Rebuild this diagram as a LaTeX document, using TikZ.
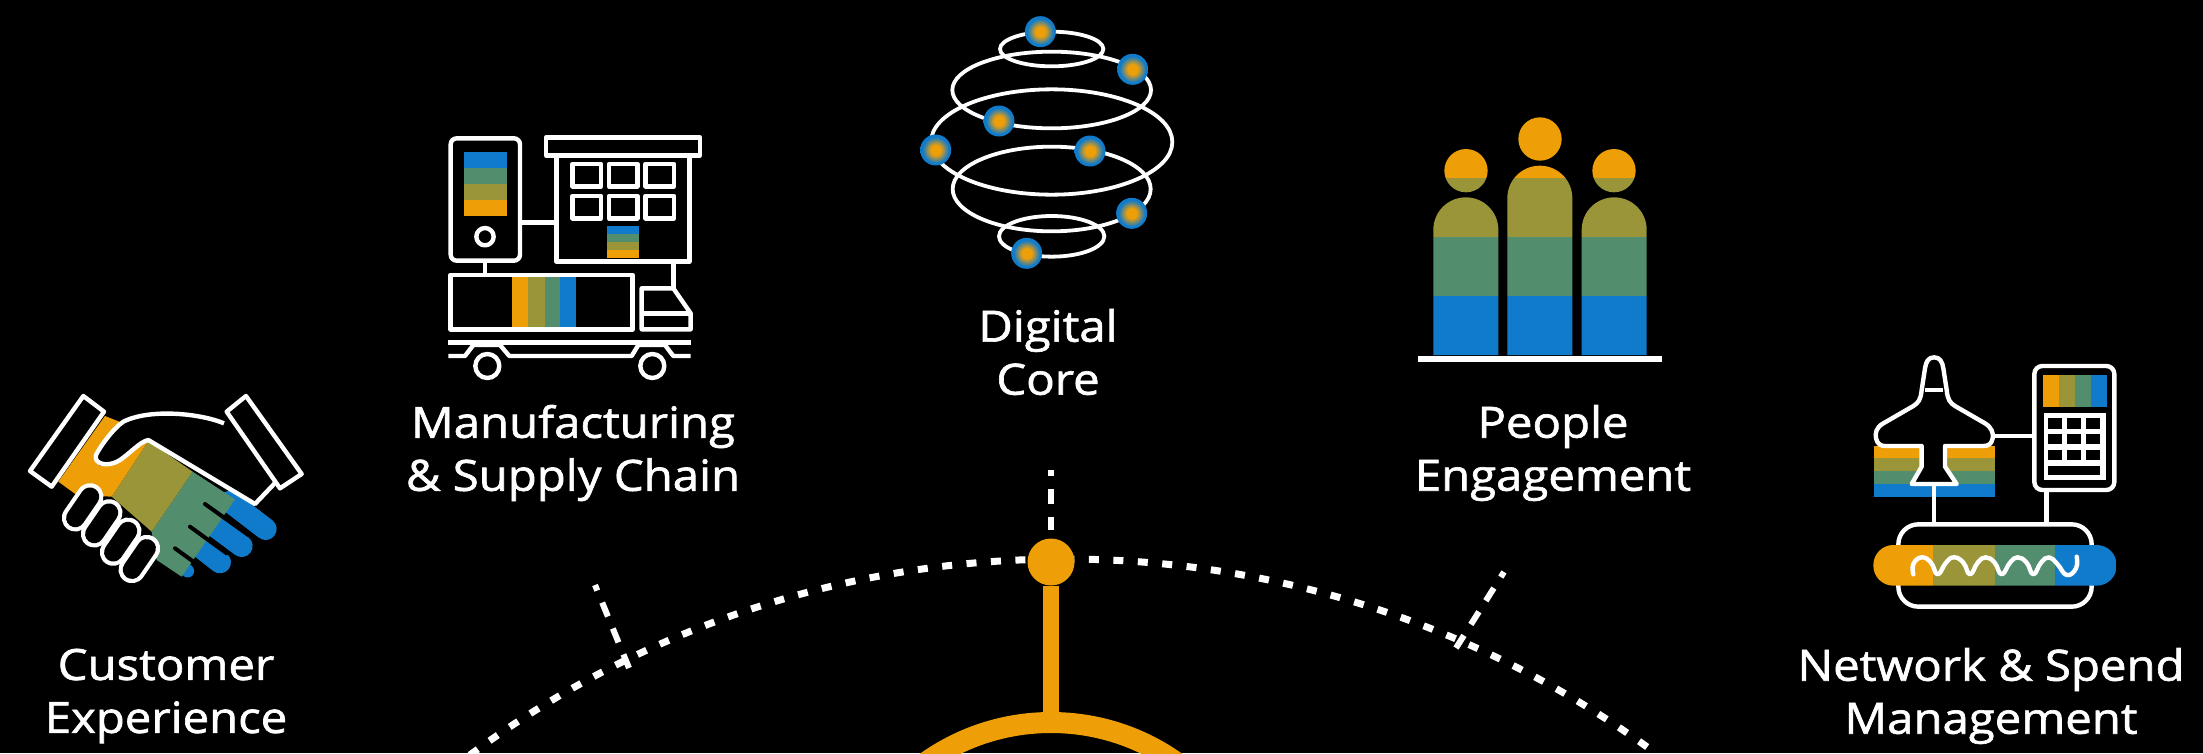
\documentclass[tikz,border=0pt]{standalone}
\usepackage{fontspec}
\setmainfont{Open Sans}
\newfontface\labfont{Open Sans}[FakeBold=1.5,FakeStretch=1.1]
\definecolor{cor}{HTML}{EE9F08}
\definecolor{col}{HTML}{999538}
\definecolor{cgr}{HTML}{528E6E}
\definecolor{cbl}{HTML}{107BCB}
\pgfdeclareradialshading{coredot}{\pgfpoint{0bp}{0bp}}{color(0bp)=(cor); color(8bp)=(cor); color(21bp)=(cbl); color(25bp)=(cbl); color(50bp)=(cbl)}
\tikzset{
  iconline/.style={draw=white,line width=4.4pt,line join=round},
  thinline/.style={draw=white,line width=3.8pt},
  label/.style={text=white,align=center,font=\labfont\fontsize{43}{53}\selectfont,inner sep=0pt},
  dotline/.style={draw=white,line width=7pt,dash pattern=on 10pt off 14.5pt},
  tickline/.style={draw=white,line width=6pt,dash pattern=on 15pt off 13pt},
  goldline/.style={draw=cor,line width=16pt},
  netdot/.style={circle,minimum size=31pt,inner sep=0pt,shading=coredot}
}
\begin{document}
\begin{tikzpicture}[x=1pt,y=-1pt]
\useasboundingbox (0,0) rectangle (2203,753);
\fill[black] (0,0) rectangle (2203,753);

% ---------- arc and hub
\begin{scope}
\clip (0,0) rectangle (2203,753);
\draw[dotline] (1064,1557) circle (998);
\draw[draw=cor,line width=21pt] (1051,939) circle (216.5);
\end{scope}
\node[circle,fill=cor,minimum size=47pt,inner sep=0pt] (hub) at (1051,562) {};
\coordinate (ringtop) at (1051,722);
\draw[goldline] (hub) -- (ringtop);
\coordinate (c1) at (1051,470); \coordinate (c2) at (1051,530);
\draw[tickline,dash phase=9pt] (c1) -- (c2);
\coordinate (l1) at (595,585); \coordinate (l2) at (629,668);
\draw[tickline,dash phase=9pt] (l1) -- (l2);
\coordinate (r1) at (1504,572); \coordinate (r2) at (1456,648);
\draw[tickline,dash phase=9pt] (r1) -- (r2);

% ---------- handshake
\begin{scope}[shift={(0,360)},scale=0.33333]
\draw[cbl,line width=22pt,line cap=round] (690,425) -- (797,507);
\draw[cbl,line width=22pt,line cap=round] (640,495) -- (725,558);
\draw[cbl,line width=22pt,line cap=round] (600,560) -- (660,607);
\draw[cbl,line width=13pt,line cap=round] (550,620) -- (563,633);
\fill[cgr] (578,335) -- (705,418) -- (545,650) -- (470,600) -- (455,515) -- cycle;
\fill[col] (445,243) -- (578,335) -- (455,515) -- (335,410) -- cycle;
\fill[cor] (315,168) -- (358,185) -- (285,295) -- (300,318) -- (345,310) -- (445,243) -- (335,410) -- (230,405) -- (175,365) -- cycle;
\draw[black,line width=4pt,line cap=round] (615,432) -- (745,525);
\draw[black,line width=4pt,line cap=round] (570,500) -- (680,580);
\draw[black,line width=4pt,line cap=round] (525,565) -- (590,612);
\draw[iconline] (250,108) -- (312,155) -- (155,380) -- (90,333) -- cycle;
\draw[iconline] (738,108) -- (680,155) -- (840,385) -- (905,342) -- cycle;
\draw[iconline] (672,190) .. controls (600,160) and (450,145) .. (370,185) .. controls (340,205) and (300,260) .. (288,285) .. controls (280,310) and (320,325) .. (360,300) .. controls (390,280) and (420,245) .. (445,240) -- (765,432) -- (826,368);
\foreach \x/\y in {248/442,305/490,362/545,418/597}{
  \draw[white,line width=27pt,line cap=round] (\x+22,\y-32) -- (\x-22,\y+32);
  \draw[black,line width=18.5pt,line cap=round] (\x+22,\y-32) -- (\x-22,\y+32);
}
\end{scope}

% ---------- manufacturing
\begin{scope}[shift={(420,120)},scale=0.33333]
\fill[cbl] (133,97) rectangle (260,145);
\fill[cgr] (133,145) rectangle (260,192);
\fill[col] (133,192) rectangle (260,240);
\fill[cor] (133,240) rectangle (260,288);
\draw[iconline,rounded corners=6pt] (92,55) rectangle (300,422);
\draw[iconline] (195,350) circle (26);
\draw[iconline] (378,52) rectangle (840,106);
\fill[cbl] (562,318) rectangle (657,342);
\fill[cgr] (562,342) rectangle (657,366);
\fill[col] (562,366) rectangle (657,390);
\fill[cor] (562,390) rectangle (657,415);
\draw[iconline] (410,106) rectangle (808,425);
\foreach \y in {132,228}{\foreach \x in {458,567,677}{
  \draw[iconline] (\x,\y) rectangle (\x+85,\y+67);
}}
\draw[iconline] (300,308) -- (410,308);
\draw[iconline] (195,422) -- (195,465);
\draw[iconline] (760,425) -- (760,505);
\fill[cor] (275,470) rectangle (325,625);
\fill[col] (325,470) rectangle (375,625);
\fill[cgr] (375,470) rectangle (420,625);
\fill[cbl] (420,470) rectangle (468,625);
\draw[iconline] (92,465) rectangle (638,628);
\draw[iconline] (665,505) -- (760,505) -- (812,580) -- (812,628) -- (665,628) -- cycle;
\draw[iconline] (665,580) -- (812,580);
\draw[iconline] (85,667) -- (812,667);
\draw[iconline] (85,708) -- (135,708) -- (160,675) -- (240,675) -- (268,708) -- (635,708) -- (655,675) -- (735,675) -- (760,708) -- (812,708);
\draw[iconline,fill=black] (202,738) circle (36);
\draw[iconline,fill=black] (697,738) circle (36);
\end{scope}

% ---------- globe
\begin{scope}[shift={(900,0)},scale=0.33333]
\draw[thinline] (455,147) ellipse (155 and 52);
\draw[thinline] (455,270) ellipse (298 and 115);
\draw[thinline] (455,426) ellipse (362 and 158);
\draw[thinline] (455,567) ellipse (297 and 127);
\draw[thinline] (455,709) ellipse (158 and 61);
\node[netdot] (d1) at (421,95) {};
\node[netdot] (d2) at (698,208) {};
\node[netdot] (d3) at (297,363) {};
\node[netdot] (d4) at (107,450) {};
\node[netdot] (d5) at (570,453) {};
\node[netdot] (d6) at (695,640) {};
\node[netdot] (d7) at (380,760) {};
\end{scope}

% ---------- people
\begin{scope}[shift={(1400,100)},scale=0.33333]
\begin{scope}
\clip (198,212) circle (65) (420,117) circle (65) (642,212) circle (65)
 (100,765) -- (100,389) arc[start angle=180,end angle=0,x radius=97.5,y radius=-97] -- (295,765) -- cycle
 (322,765) -- (322,294) arc[start angle=180,end angle=0,x radius=97.5,y radius=-97] -- (517,765) -- cycle
 (545,765) -- (545,389) arc[start angle=180,end angle=0,x radius=97.5,y radius=-97] -- (740,765) -- cycle;
\fill[cor] (0,0) rectangle (840,235);
\fill[col] (0,235) rectangle (840,410);
\fill[cgr] (0,410) rectangle (840,588);
\fill[cbl] (0,588) rectangle (840,770);
\end{scope}
\draw[white,line width=5.5pt] (55,777) -- (785,777);
\end{scope}

% ---------- network
\begin{scope}[shift={(1850,340)},scale=0.33333]
\fill[cor] (72,318) rectangle (435,355);
\fill[col] (72,355) rectangle (435,393);
\fill[cgr] (72,393) rectangle (435,432);
\fill[cbl] (72,432) rectangle (435,470);
\draw[iconline,fill=black] (252,52) .. controls (235,52) and (228,65) .. (225,85) -- (215,150) .. controls (212,180) and (205,188) .. (190,198) -- (100,250) .. controls (78,262) and (75,280) .. (78,295) .. controls (82,312) and (92,318) .. (105,318) -- (215,318) -- (215,380) -- (185,432) -- (320,432) -- (285,380) -- (285,318) -- (400,318) .. controls (415,318) and (425,312) .. (428,295) .. controls (431,280) and (425,262) .. (405,250) -- (315,198) .. controls (300,188) and (293,180) .. (290,150) -- (280,85) .. controls (277,65) and (270,52) .. (252,52) -- cycle;
\draw[iconline] (225,150) -- (280,150);
\draw[iconline] (252,432) -- (252,550);
\draw[iconline] (430,288) -- (553,288);
\draw[iconline,rounded corners=8pt] (553,78) rectangle (793,450);
\fill[cor] (578,105) rectangle (627,200);
\fill[col] (627,105) rectangle (675,200);
\fill[cgr] (675,105) rectangle (722,200);
\fill[cbl] (722,105) rectangle (770,200);
\fill[white] (581,220) rectangle (767,420);
\foreach \y in {235,282,329}{\foreach \x in {593,650,708}{
  \fill[black] (\x,\y) rectangle (\x+42,\y+31);
}}
\fill[black] (593,377) rectangle (750,405);
\draw[iconline] (590,450) -- (590,553);
\draw[iconline,rounded corners=20pt] (145,553) rectangle (725,800);
\begin{scope}
\clip[rounded corners=20pt] (70,615) rectangle (800,737);
\fill[cor] (70,615) rectangle (248,737);
\fill[col] (248,615) rectangle (436,737);
\fill[cgr] (436,615) rectangle (615,737);
\fill[cbl] (615,615) rectangle (800,737);
\end{scope}
\draw[iconline,line cap=round] plot[smooth,tension=0.8] coordinates {(190,703) (190,672) (215,652) (243,668) (263,703) (288,668) (312,652) (340,668) (360,703) (383,668) (407,652) (434,668) (455,703) (480,668) (503,652) (530,668) (550,703) (573,668) (597,652) (622,672) (650,705) (678,685) (680,650)};
\end{scope}

% ---------- labels
\node[label] (customer) at (166,696) {Customer\\Experience};
\node[label] (manufacturing) at (573,453) {Manufacturing\\\& Supply Chain};
\node[label] (core) at (1048,352) {Digital\\Core};
\node[label] (people) at (1553,453) {People\\Engagement};
\node[label] (network) at (1991,696) {Network \& Spend\\Management};
\end{tikzpicture}
\end{document}
